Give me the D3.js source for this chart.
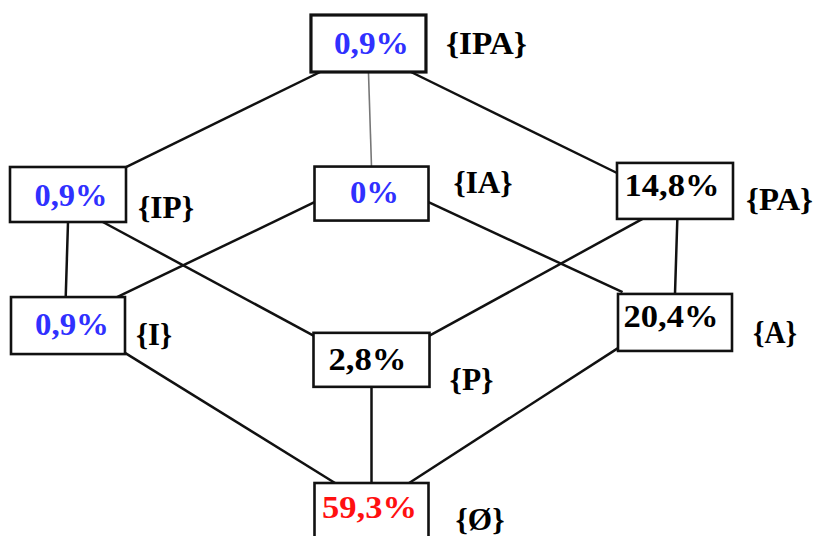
<!DOCTYPE html>
<html><head><meta charset="utf-8">
<script src="https://cdn.jsdelivr.net/npm/d3@7"></script>
<style>html,body{margin:0;padding:0;background:#fff;overflow:hidden}</style>
</head><body><svg id="c" width="813" height="536"></svg>
<script>
// ---- data ----
const nodes  = ["IPA", "IP", "IA", "PA", "I", "P", "A", "Ø"];
const values = ["0,9%", "0,9%", "0%", "14,8%", "0,9%", "2,8%", "20,4%", "59,3%"];
const setLabels = ["{IPA}", "{IP}", "{IA}", "{PA}", "{I}", "{P}", "{A}", "{Ø}"];
const valueKinds = ["blue", "blue", "blue", "black", "blue", "black", "black", "red"];
const edges = [["IPA","IP"],["IPA","IA"],["IPA","PA"],["IP","I"],["IP","P"],["IA","I"],["IA","A"],["PA","P"],["PA","A"],["I","Ø"],["P","Ø"],["A","Ø"]];

// ---- layout (lattice column / level) ----
const layout = {
  "IPA": {col:0.99, lvl:0,     w:115, h:57},
  "IP":  {col:0,    lvl:0.969, w:116, h:55},
  "IA":  {col:1.0,  lvl:0.963, w:114, h:54},
  "PA":  {col:2.0,  lvl:0.946, w:116, h:56},
  "I":   {col:0.0,  lvl:1.81,  w:114, h:57},
  "P":   {col:1.0,  lvl:2.03,  w:116, h:54},
  "A":   {col:2.0,  lvl:1.79,  w:114, h:57},
  "Ø":   {col:1.0,  lvl:3.0,   w:114, h:56}
};
// text placement relative to box: [dx, dy, width]
const valueFit = {"IPA":[3,10,75],"IP":[3,11,73],"IA":[3,9,49],"PA":[-3,5,95],"I":[4,9,74],"P":[-4,10,78],"A":[-4,5,95],"Ø":[-2,7,95]};
const labelFit = {"IPA":[20,10,81],"IP":[12,23,56],"IA":[25,-1,59],"PA":[13,19,67],"I":[11,19,36],"P":[20,30,44],"A":[21,21,44],"Ø":[27,19,49]};
// edge anchors: [fx,fy] on source box, [fx,fy] on target box (0..1)
const anchors = {
  "IPA-IP":[[0.08,1],[1,0]], "IPA-IA":[[0.5,1],[0.5,0]], "IPA-PA":[[0.87,1],[0,0.18]],
  "IP-I":[[0.5,1],[0.48,0]], "IP-P":[[0.8,1],[0,0.05]],
  "IA-I":[[0,0.66],[0.93,0]], "IA-A":[[1,0.66],[0.04,-0.03]],
  "PA-P":[[0.22,1],[1,0.05]], "PA-A":[[0.52,1],[0.5,0]],
  "I-Ø":[[1,0.98],[0.18,0]], "P-Ø":[[0.5,1],[0.5,0]], "A-Ø":[[0,0.95],[0.83,0]]
};
const colorOf = {blue:"#3030ff", black:"#000", red:"#ff1010"};
const FONT = "Liberation Serif";

const x = d3.scaleLinear().domain([0,2]).range([68,675]);
const y = d3.scaleLinear().domain([0,3]).range([43.5,511]);
const svg = d3.select("#c");

const box = n => {const L=layout[n]; const cx=x(L.col), cy=y(L.lvl); return {cx,cy,x0:cx-L.w/2,y0:cy-L.h/2,w:L.w,h:L.h};};
const pt = (n,a) => {const b=box(n); return [b.x0+a[0]*b.w, b.y0+a[1]*b.h];};

svg.append("g").selectAll("line").data(edges).join("line")
  .each(function(e){
    const a = anchors[e[0]+"-"+e[1]];
    const p = pt(e[0],a[0]), q = pt(e[1],a[1]);
    d3.select(this).attr("x1",p[0]).attr("y1",p[1]).attr("x2",q[0]).attr("y2",q[1]);
  })
  .attr("stroke", e => (e[0]==="IPA"&&e[1]==="IA") ? "#777" : "#111")
  .attr("stroke-width", e => (e[0]==="IPA"&&e[1]==="IA") ? 1.6 : 2.5);

const g = svg.append("g").selectAll("g").data(nodes).join("g");
g.append("rect")
  .attr("x", n=>box(n).x0).attr("y", n=>box(n).y0)
  .attr("width", n=>box(n).w).attr("height", n=>box(n).h)
  .attr("fill","#fff").attr("stroke","#111")
  .attr("stroke-width", n => n==="IPA" ? 3.2 : 2.6);

g.append("text")
  .attr("x", n=>box(n).cx + valueFit[n][0])
  .attr("y", n=>box(n).cy + valueFit[n][1])
  .attr("text-anchor","middle")
  .attr("textLength", n=>valueFit[n][2]).attr("lengthAdjust","spacingAndGlyphs")
  .attr("font-family", FONT)
  .attr("font-weight","bold").attr("font-size",31)
  .attr("fill", (n,i)=>colorOf[valueKinds[i]])
  .text((n,i)=>values[i]);

g.append("text")
  .attr("x", n=>box(n).x0 + box(n).w + labelFit[n][0])
  .attr("y", n=>box(n).cy + labelFit[n][1])
  .attr("text-anchor","start")
  .attr("textLength", n=>labelFit[n][2]).attr("lengthAdjust","spacingAndGlyphs")
  .attr("font-family", FONT)
  .attr("font-weight","bold").attr("font-size",31)
  .attr("fill","#000")
  .text((n,i)=>setLabels[i]);
</script></body></html>
